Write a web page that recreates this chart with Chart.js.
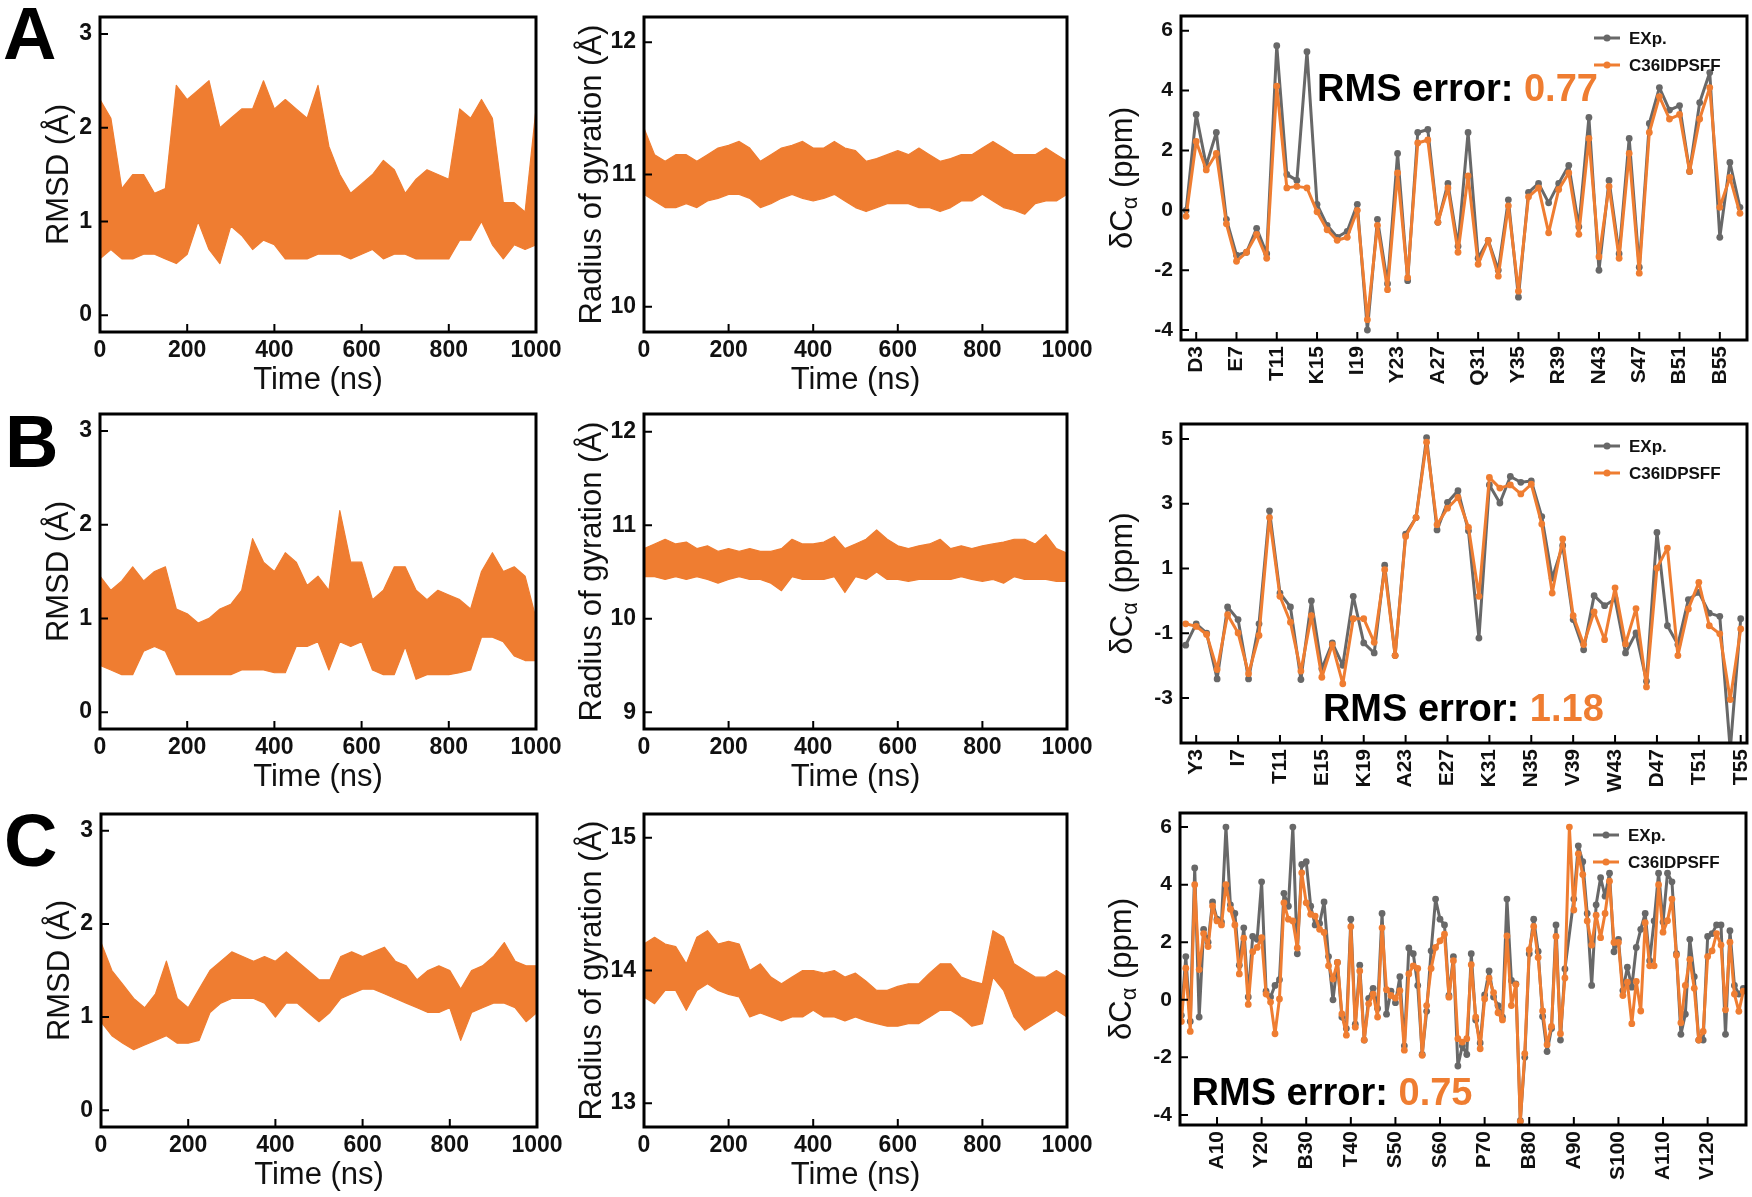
<!DOCTYPE html>
<html><head><meta charset="utf-8">
<script src="https://cdn.jsdelivr.net/npm/chart.js@4.4.0/dist/chart.umd.min.js"></script>
<style>
html,body{margin:0;padding:0;background:#fff;width:1752px;height:1197px;overflow:hidden;position:relative}
canvas{position:absolute}
</style></head><body>
<script>
// ---------------- DATA ----------------
const TIME_NS = [0,25,50,75,100,125,150,175,200,225,250,275,300,325,350,375,400,425,450,475,500,525,550,575,600,625,650,675,700,725,750,775,800,825,850,875,900,925,950,975,1000];
const TIME_TICKS = [0,200,400,600,800,1000];

// RMSD / Rg traces: upper and lower envelope of the dense trace, read every 25 ns
const RMSD_A_HI = [2.3,2.1,1.35,1.5,1.5,1.3,1.35,2.45,2.3,2.4,2.5,2.0,2.1,2.2,2.2,2.5,2.2,2.3,2.2,2.1,2.45,1.8,1.5,1.3,1.4,1.5,1.65,1.55,1.3,1.45,1.55,1.5,1.45,2.2,2.1,2.3,2.1,1.2,1.2,1.1,2.2];
const RMSD_A_LO = [0.6,0.7,0.6,0.6,0.65,0.65,0.6,0.55,0.65,1.0,0.7,0.55,0.95,0.85,0.7,0.8,0.75,0.6,0.6,0.6,0.65,0.65,0.65,0.6,0.65,0.7,0.6,0.65,0.65,0.6,0.6,0.6,0.6,0.8,0.8,1.0,0.75,0.6,0.75,0.7,0.75];
const RG_A_HI = [11.35,11.15,11.1,11.15,11.15,11.1,11.15,11.2,11.22,11.25,11.2,11.1,11.15,11.2,11.22,11.25,11.2,11.2,11.25,11.2,11.18,11.1,11.12,11.15,11.18,11.15,11.2,11.15,11.1,11.12,11.15,11.15,11.2,11.25,11.2,11.15,11.15,11.15,11.2,11.15,11.1];
const RG_A_LO = [10.85,10.8,10.75,10.75,10.78,10.75,10.8,10.82,10.85,10.85,10.82,10.75,10.78,10.82,10.85,10.82,10.8,10.82,10.85,10.8,10.75,10.72,10.75,10.78,10.78,10.78,10.75,10.75,10.72,10.75,10.8,10.8,10.85,10.8,10.75,10.73,10.7,10.78,10.8,10.8,10.85];
const RMSD_B_HI = [1.45,1.3,1.4,1.55,1.4,1.5,1.55,1.1,1.05,0.95,1.0,1.1,1.15,1.3,1.85,1.6,1.5,1.7,1.6,1.35,1.45,1.3,2.15,1.6,1.6,1.2,1.3,1.55,1.55,1.3,1.2,1.3,1.25,1.2,1.1,1.5,1.7,1.5,1.55,1.45,1.0];
const RMSD_B_LO = [0.5,0.45,0.4,0.4,0.65,0.7,0.65,0.4,0.4,0.4,0.4,0.4,0.4,0.45,0.45,0.45,0.42,0.42,0.7,0.7,0.75,0.45,0.75,0.7,0.75,0.45,0.4,0.4,0.7,0.35,0.4,0.4,0.4,0.42,0.45,0.8,0.8,0.75,0.6,0.55,0.55];
const RG_B_HI = [10.75,10.8,10.85,10.8,10.82,10.75,10.78,10.72,10.75,10.72,10.75,10.72,10.72,10.75,10.85,10.8,10.8,10.82,10.88,10.75,10.8,10.85,10.95,10.85,10.78,10.75,10.78,10.8,10.85,10.75,10.78,10.75,10.78,10.8,10.82,10.85,10.85,10.8,10.9,10.75,10.7];
const RG_B_LO = [10.45,10.45,10.42,10.45,10.42,10.45,10.42,10.38,10.42,10.45,10.42,10.42,10.38,10.3,10.45,10.42,10.42,10.42,10.45,10.28,10.45,10.42,10.5,10.42,10.42,10.4,10.42,10.42,10.42,10.42,10.45,10.42,10.4,10.42,10.38,10.45,10.42,10.42,10.42,10.4,10.4];
const RMSD_C_HI = [1.8,1.5,1.35,1.2,1.1,1.25,1.6,1.2,1.1,1.3,1.5,1.6,1.7,1.65,1.6,1.65,1.6,1.7,1.6,1.5,1.4,1.4,1.65,1.7,1.65,1.7,1.75,1.6,1.55,1.4,1.5,1.55,1.5,1.3,1.5,1.55,1.65,1.8,1.6,1.55,1.55];
const RMSD_C_LO = [0.95,0.8,0.72,0.65,0.7,0.75,0.8,0.72,0.72,0.75,1.05,1.15,1.2,1.2,1.2,1.15,1.0,1.15,1.15,1.05,0.95,1.05,1.2,1.25,1.3,1.3,1.25,1.2,1.15,1.1,1.05,1.05,1.1,0.75,1.05,1.1,1.15,1.15,1.1,0.95,1.05];
const RG_C_HI = [14.2,14.25,14.2,14.18,14.05,14.25,14.3,14.2,14.22,14.2,14.0,14.05,13.95,13.9,13.95,14.0,14.0,13.98,14.0,13.95,13.98,13.92,13.85,13.85,13.88,13.9,13.9,13.98,14.05,14.05,13.95,13.92,13.9,14.3,14.25,14.05,14.0,13.95,13.95,14.0,13.95];
const RG_C_LO = [13.8,13.75,13.85,13.85,13.7,13.85,13.9,13.85,13.82,13.8,13.65,13.68,13.65,13.62,13.65,13.65,13.7,13.65,13.65,13.62,13.65,13.62,13.6,13.58,13.58,13.6,13.6,13.65,13.7,13.7,13.65,13.58,13.6,13.95,13.85,13.65,13.55,13.6,13.65,13.7,13.65];

// Secondary chemical shifts (ppm) per residue
const RES_A = [2,3,4,5,6,7,8,9,10,11,12,13,14,15,16,17,18,19,20,21,22,23,24,25,26,27,28,29,30,31,32,33,34,35,36,37,38,39,40,41,42,43,44,45,46,47,48,49,50,51,52,53,54,55,56,57];
const EXP_A = [0,3.2,1.5,2.6,-0.3,-1.5,-1.4,-0.6,-1.45,5.5,1.2,1.0,5.3,0.2,-0.5,-0.9,-0.7,0.2,-4.0,-0.3,-2.45,1.9,-2.35,2.6,2.7,-0.4,0.9,-1.2,2.6,-1.6,-1.0,-2.0,0.35,-2.9,0.6,0.9,0.25,0.9,1.5,-0.55,3.1,-2.0,1.0,-1.45,2.4,-1.9,2.9,4.1,3.35,3.5,1.3,3.6,4.6,-0.9,1.6,0.1];
const SIM_A = [-0.2,2.3,1.35,1.9,-0.45,-1.7,-1.4,-0.8,-1.6,4.15,0.75,0.8,0.75,-0.05,-0.65,-1.0,-0.9,0.0,-3.65,-0.5,-2.65,1.25,-2.25,2.25,2.35,-0.4,0.75,-1.4,1.15,-1.8,-1.0,-2.2,0.15,-2.7,0.45,0.75,-0.75,0.7,1.25,-0.8,2.4,-1.55,0.8,-1.6,1.9,-2.1,2.6,3.8,3.05,3.2,1.3,3.05,4.1,0.1,1.1,-0.1];
const TICKS_A = [3,7,11,15,19,23,27,31,35,39,43,47,51,55];
const LABELS_A = ['D3','E7','T11','K15','I19','Y23','A27','Q31','Y35','R39','N43','S47','B51','B55'];

const RES_B = [2,3,4,5,6,7,8,9,10,11,12,13,14,15,16,17,18,19,20,21,22,23,24,25,26,27,28,29,30,31,32,33,34,35,36,37,38,39,40,41,42,43,44,45,46,47,48,49,50,51,52,53,54,55];
const EXP_B = [-1.37,-0.71,-1.0,-2.41,-0.19,-0.58,-2.41,-0.71,2.78,0.24,-0.19,-2.43,0.0,-2.1,-1.3,-1.99,0.14,-1.3,-1.61,1.1,-1.69,2.06,2.57,5.04,2.19,3.04,3.4,2.16,-1.15,3.58,3.02,3.84,3.66,3.7,2.6,0.7,1.71,-0.58,-1.51,0.16,-0.15,0.06,-1.61,-0.99,-2.48,2.11,-0.77,-1.35,0.04,0.26,-0.38,-0.48,-4.6,-0.55];
const SIM_B = [-0.71,-0.79,-1.04,-2.12,-0.43,-0.99,-2.25,-1.07,2.57,0.14,-0.66,-2.17,-0.46,-2.36,-1.35,-2.56,-0.55,-0.55,-1.28,0.96,-1.69,1.99,2.57,4.9,2.35,2.86,3.19,2.27,0.14,3.81,3.48,3.58,3.3,3.6,2.37,0.24,1.91,-0.46,-1.35,-0.34,-1.2,0.4,-1.33,-0.24,-2.66,1.01,1.63,-1.69,-0.25,0.57,-0.77,-1.02,-3.05,-0.87];
const TICKS_B = [3,7,11,15,19,23,27,31,35,39,43,47,51,55];
const LABELS_B = ['Y3','I7','T11','E15','K19','A23','E27','K31','N35','V39','W43','D47','T51','T55'];

const RES_C = [2,3,4,5,6,7,8,9,10,11,12,13,14,15,16,17,18,19,20,21,22,23,24,25,26,27,28,29,30,31,32,33,34,35,36,37,38,39,40,41,42,43,44,45,46,47,48,49,50,51,52,53,54,55,56,57,58,59,60,61,62,63,64,65,66,67,68,69,70,71,72,73,74,75,76,77,78,79,80,81,82,83,84,85,86,87,88,89,90,91,92,93,94,95,96,97,98,99,100,101,102,103,104,105,106,107,108,109,110,111,112,113,114,115,116,117,118,119,120,121,122,123,124,125,126,127,128];
const EXP_C = [-0.54,1.5,-0.75,4.58,-0.6,2.45,2.0,3.4,2.8,2.7,
 6.0,3.3,3.0,1.2,2.5,0.1,2.2,2.1,4.1,0.3,
 0.1,0.5,0.7,3.7,3.25,6.0,1.6,4.7,4.8,3.25,
 2.6,2.65,3.4,1.5,0.0,1.3,-0.6,-1.0,2.8,-0.85,
 1.2,-1.4,0.05,0.4,-0.3,3.0,-0.5,0.3,-0.1,0.8,
 -1.6,1.8,1.6,0.5,-1.9,-0.4,1.7,3.5,2.8,2.6,
 0.15,1.5,-2.3,-1.6,-1.9,1.6,-0.7,-1.5,0.17,1.0,
 0.1,-0.2,-0.6,3.5,0.67,0.55,-4.2,-2.0,1.6,2.8,
 1.68,-0.58,-1.8,-1.0,2.6,-1.4,1.07,null,3.5,5.35,
 4.8,3.0,0.5,3.3,4.24,3.6,4.4,1.67,2.1,0.32,
 1.13,0.44,1.82,2.45,3.0,1.36,2.74,4.4,2.7,4.4,
 4.1,1.6,-1.2,-0.5,2.1,0.8,-1.4,-1.4,2.2,2.3,
 2.6,2.6,-1.2,2.4,0.5,0.2,0.4];
const SIM_C = [-0.75,1.1,-1.1,4.0,1.05,2.3,1.85,3.26,2.74,2.6,
 4.0,3.15,2.6,0.9,2.14,-0.16,1.67,1.82,2.16,0.2,
 -0.08,-1.18,0.03,3.37,2.8,2.74,1.8,4.41,3.37,2.97,
 2.91,2.45,2.34,1.18,0.72,1.3,-0.49,-1.23,2.54,-0.95,
 1.0,-1.4,-0.14,0.2,-0.6,2.5,0.35,0.15,0.06,0.32,
 -1.75,0.9,1.18,1.09,-1.93,-0.2,1.09,1.82,2.05,2.28,
 0.09,1.36,-1.35,-1.47,-1.35,1.22,-0.6,-1.7,0.03,0.75,
 0.25,-0.45,-0.7,2.22,-0.2,0.53,-4.23,-1.87,1.74,2.55,
 1.47,-0.39,-1.56,-0.92,2.2,-1.18,0.76,6.0,3.12,5.07,
 4.35,2.74,1.9,2.94,2.16,3.0,4.12,1.99,1.99,0.15,
 0.61,-0.83,0.64,-0.39,2.68,1.18,1.18,4.0,2.35,2.75,
 3.5,1.55,-0.8,0.5,1.4,0.4,-1.4,-1.1,1.5,1.7,
 2.3,1.9,-0.35,2.0,0.2,-0.4,0.3];
const TICKS_C = [10,20,30,40,50,60,70,80,90,100,110,120];
const LABELS_C = ['A10','Y20','B30','T40','S50','S60','P70','B80','A90','S100','A110','V120'];

const RMS_VALUES = ['0.77','1.18','0.75'];
const SERIES_NAMES = ['EXp.','C36IDPSFF'];
const PANEL_LETTERS = ['A','B','C'];

// ---------------- STYLE / LAYOUT ----------------
const FONT = '"Liberation Sans", Arial, Helvetica, sans-serif';
const ORANGE = '#EF7D31';
const GRAY = '#686868';
const INK = '#111111';

function makeCanvas(x, y, w, h) {
  const c = document.createElement('canvas');
  c.width = w; c.height = h;
  c.style.left = x + 'px'; c.style.top = y + 'px';
  c.style.width = w + 'px'; c.style.height = h + 'px';
  document.body.appendChild(c);
  return c;
}

function framePlugin(cfg) {
  return {
    id: 'frame',
    afterDraw(chart) {
      const ctx = chart.ctx, a = chart.chartArea;
      const xs = chart.scales.x, ys = chart.scales.y;
      ctx.save();
      ctx.strokeStyle = '#000';
      ctx.lineWidth = 2;
      ctx.beginPath();
      xs.ticks.forEach(t => { const p = xs.getPixelForValue(t.value); ctx.moveTo(p, a.bottom); ctx.lineTo(p, a.bottom - 8); });
      ys.ticks.forEach(t => { const p = ys.getPixelForValue(t.value); ctx.moveTo(a.left, p); ctx.lineTo(a.left + 8, p); });
      ctx.stroke();
      ctx.lineWidth = 3;
      ctx.strokeRect(a.left, a.top, a.right - a.left, a.bottom - a.top);

      ctx.fillStyle = INK;
      ctx.textAlign = 'center';
      ctx.textBaseline = 'middle';
      ctx.font = '31px ' + FONT;
      if (cfg.xTitle) ctx.fillText(cfg.xTitle, (a.left + a.right) / 2, a.bottom + cfg.xTitleOff);
      if (cfg.yTitle) {
        ctx.save();
        ctx.translate(a.left - cfg.yTitleOff, (a.top + a.bottom) / 2);
        ctx.rotate(-Math.PI / 2);
        ctx.textAlign = 'left';
        const parts = cfg.yTitle;
        let total = 0;
        parts.forEach(p => { ctx.font = (p.sub ? '22px ' : '31px ') + FONT; total += ctx.measureText(p.t).width; });
        let x = -total / 2;
        parts.forEach(p => {
          ctx.font = (p.sub ? '22px ' : '31px ') + FONT;
          ctx.fillText(p.t, x, p.sub ? 8 : 0);
          x += ctx.measureText(p.t).width;
        });
        ctx.restore();
      }
      if (cfg.letter) {
        ctx.font = 'bold 74px ' + FONT;
        ctx.textAlign = 'left';
        ctx.textBaseline = 'alphabetic';
        ctx.fillStyle = '#000';
        ctx.fillText(cfg.letter.t, cfg.letter.x, cfg.letter.y);
      }
      if (cfg.rms) {
        const px = xs.getPixelForValue(cfg.rms.x), py = ys.getPixelForValue(cfg.rms.y);
        ctx.font = 'bold 38px ' + FONT;
        ctx.textAlign = 'left';
        ctx.textBaseline = 'middle';
        ctx.fillStyle = '#000';
        const lbl = 'RMS error: ';
        ctx.fillText(lbl, px, py);
        ctx.fillStyle = ORANGE;
        ctx.fillText(cfg.rms.v, px + ctx.measureText(lbl).width, py);
      }
      if (cfg.legend) {
        const items = [{c: GRAY, t: SERIES_NAMES[0]}, {c: ORANGE, t: SERIES_NAMES[1]}];
        items.forEach((it, i) => {
          const y = a.top + 22 + i * 27;
          const x0 = a.right - 153, x1 = a.right - 127;
          ctx.strokeStyle = it.c; ctx.lineWidth = 3;
          ctx.beginPath(); ctx.moveTo(x0, y); ctx.lineTo(x1, y); ctx.stroke();
          ctx.fillStyle = it.c;
          ctx.beginPath(); ctx.arc((x0 + x1) / 2, y, 3.5, 0, Math.PI * 2); ctx.fill();
          ctx.fillStyle = INK;
          ctx.font = 'bold 17px ' + FONT;
          ctx.textAlign = 'left'; ctx.textBaseline = 'middle';
          ctx.fillText(it.t, a.right - 118, y + 1);
        });
      }
      ctx.restore();
    }
  };
}

function layoutPadding(cv, box, yw, xh) {
  return {
    left: (box.L - cv.x) - yw,
    top: box.T - cv.y,
    right: (cv.x + cv.w) - box.R,
    bottom: (cv.y + cv.h) - box.B - xh
  };
}

const plainNum = v => String(v);

function timeChart(cv, box, hi, lo, yMin, yMax, yTicks, yTitle, yTitleOff, letter) {
  const YW = 50, XH = 45;
  const canvas = makeCanvas(cv.x, cv.y, cv.w, cv.h);
  const cfg = {
    xTitle: 'Time (ns)', xTitleOff: 48,
    yTitle: [{t: yTitle}], yTitleOff: yTitleOff,
    letter: letter ? {t: letter.t, x: letter.x - cv.x, y: letter.y - cv.y} : null
  };
  return new Chart(canvas, {
    type: 'line',
    data: {
      datasets: [
        {data: TIME_NS.map((t, i) => ({x: t, y: hi[i]})), borderColor: ORANGE, backgroundColor: ORANGE,
         borderWidth: 1.2, pointRadius: 0, fill: '+1', tension: 0, borderJoinStyle: 'round'},
        {data: TIME_NS.map((t, i) => ({x: t, y: lo[i]})), borderColor: ORANGE, backgroundColor: ORANGE,
         borderWidth: 1.2, pointRadius: 0, fill: false, tension: 0, borderJoinStyle: 'round'}
      ]
    },
    options: {
      responsive: false, animation: false, events: [],
      layout: {padding: layoutPadding(cv, box, YW, XH)},
      plugins: {legend: {display: false}, tooltip: {enabled: false}},
      scales: {
        x: {type: 'linear', min: 0, max: 1000,
            grid: {display: false, drawTicks: false}, border: {display: false},
            ticks: {color: INK, padding: 5, maxRotation: 0, autoSkip: false, callback: plainNum,
                    font: {family: FONT, size: 23, weight: 'bold'}},
            afterBuildTicks: s => { s.ticks = TIME_TICKS.map(v => ({value: v})); },
            afterFit: s => { s.height = XH; s.paddingLeft = 0; s.paddingRight = 0; }},
        y: {type: 'linear', min: yMin, max: yMax,
            grid: {display: false, drawTicks: false}, border: {display: false},
            ticks: {color: INK, padding: 8, autoSkip: false, callback: plainNum,
                    font: {family: FONT, size: 23, weight: 'bold'}},
            afterBuildTicks: s => { s.ticks = yTicks.map(v => ({value: v})); },
            afterFit: s => { s.width = YW; s.paddingTop = 0; s.paddingBottom = 0; }}
      }
    },
    plugins: [framePlugin(cfg)]
  });
}

function shiftChart(cv, box, res, expv, simv, xMin, xMax, xTicks, xLabels, yMin, yMax, yTicks, rms) {
  const YW = 50, XH = 60;
  const canvas = makeCanvas(cv.x, cv.y, cv.w, cv.h);
  const cfg = {
    yTitle: [{t: 'δC'}, {t: 'α', sub: true}, {t: ' (ppm)'}], yTitleOff: 58,
    rms: rms, legend: true
  };
  return new Chart(canvas, {
    type: 'line',
    data: {
      datasets: [
        {data: res.map((r, i) => ({x: r, y: expv[i]})), borderColor: GRAY, backgroundColor: GRAY,
         borderWidth: 3, pointRadius: 3.4, pointBorderWidth: 0, tension: 0, spanGaps: true, order: 2,
         borderJoinStyle: 'round', borderCapStyle: 'round'},
        {data: res.map((r, i) => ({x: r, y: simv[i]})), borderColor: ORANGE, backgroundColor: ORANGE,
         borderWidth: 3, pointRadius: 3.4, pointBorderWidth: 0, tension: 0, spanGaps: true, order: 1,
         borderJoinStyle: 'round', borderCapStyle: 'round'}
      ]
    },
    options: {
      responsive: false, animation: false, events: [],
      layout: {padding: layoutPadding(cv, box, YW, XH)},
      plugins: {legend: {display: false}, tooltip: {enabled: false}},
      scales: {
        x: {type: 'linear', min: xMin, max: xMax,
            grid: {display: false, drawTicks: false}, border: {display: false},
            ticks: {color: INK, padding: 6, minRotation: 90, maxRotation: 90, autoSkip: false,
                    font: {family: FONT, size: 21, weight: 'bold'},
                    callback: v => { const k = xTicks.indexOf(v); return k >= 0 ? xLabels[k] : ''; }},
            afterBuildTicks: s => { s.ticks = xTicks.map(v => ({value: v})); },
            afterFit: s => { s.height = XH; s.paddingLeft = 0; s.paddingRight = 0; }},
        y: {type: 'linear', min: yMin, max: yMax,
            grid: {display: false, drawTicks: false}, border: {display: false},
            ticks: {color: INK, padding: 8, autoSkip: false, callback: plainNum,
                    font: {family: FONT, size: 21, weight: 'bold'}},
            afterBuildTicks: s => { s.ticks = yTicks.map(v => ({value: v})); },
            afterFit: s => { s.width = YW; s.paddingTop = 0; s.paddingBottom = 0; }}
      }
    },
    plugins: [framePlugin(cfg)]
  });
}

const COLS = [{x: 0, w: 600}, {x: 545, w: 565}, {x: 1085, w: 667}];
const ROWS = [{y: 0, h: 410}, {y: 395, h: 415}, {y: 790, h: 407}];
const cv = (c, r) => ({x: COLS[c].x, y: ROWS[r].y, w: COLS[c].w, h: ROWS[r].h});

// Row A
timeChart(cv(0,0), {L:100, R:536, T:17, B:332}, RMSD_A_HI, RMSD_A_LO, -0.18, 3.18, [0,1,2,3], 'RMSD (Å)', 41, {t: PANEL_LETTERS[0], x: 3, y: 59});
timeChart(cv(1,0), {L:644, R:1067, T:17, B:332}, RG_A_HI, RG_A_LO, 9.81, 12.19, [10,11,12], 'Radius of gyration (Å)', 52, null);
shiftChart(cv(2,0), {L:1181, R:1747, T:16, B:340}, RES_A, EXP_A, SIM_A, 1.49, 57.7, TICKS_A, LABELS_A, -4.33, 6.49, [-4,-2,0,2,4,6], {x: 15.0, y: 4.0, v: RMS_VALUES[0]});
// Row B
timeChart(cv(0,1), {L:100, R:536, T:414, B:729}, RMSD_B_HI, RMSD_B_LO, -0.18, 3.18, [0,1,2,3], 'RMSD (Å)', 41, {t: PANEL_LETTERS[1], x: 5, y: 467});
timeChart(cv(1,1), {L:644, R:1067, T:414, B:729}, RG_B_HI, RG_B_LO, 8.82, 12.19, [9,10,11,12], 'Radius of gyration (Å)', 52, null);
shiftChart(cv(2,1), {L:1181, R:1747, T:424, B:743}, RES_B, EXP_B, SIM_B, 1.55, 55.6, TICKS_B, LABELS_B, -4.39, 5.46, [-3,-1,1,3,5], {x: 15.1, y: -3.38, v: RMS_VALUES[1]});
// Row C
timeChart(cv(0,2), {L:101, R:537, T:814, B:1127}, RMSD_C_HI, RMSD_C_LO, -0.18, 3.18, [0,1,2,3], 'RMSD (Å)', 41, {t: PANEL_LETTERS[2], x: 4, y: 866});
timeChart(cv(1,2), {L:644, R:1067, T:814, B:1127}, RG_C_HI, RG_C_LO, 12.82, 15.18, [13,14,15], 'Radius of gyration (Å)', 52, null);
shiftChart(cv(2,2), {L:1180, R:1746, T:813, B:1125}, RES_C, EXP_C, SIM_C, 1.7, 128.6, TICKS_C, LABELS_C, -4.35, 6.49, [-4,-2,0,2,4,6], {x: 4.3, y: -3.3, v: RMS_VALUES[2]});
</script>
</body></html>
